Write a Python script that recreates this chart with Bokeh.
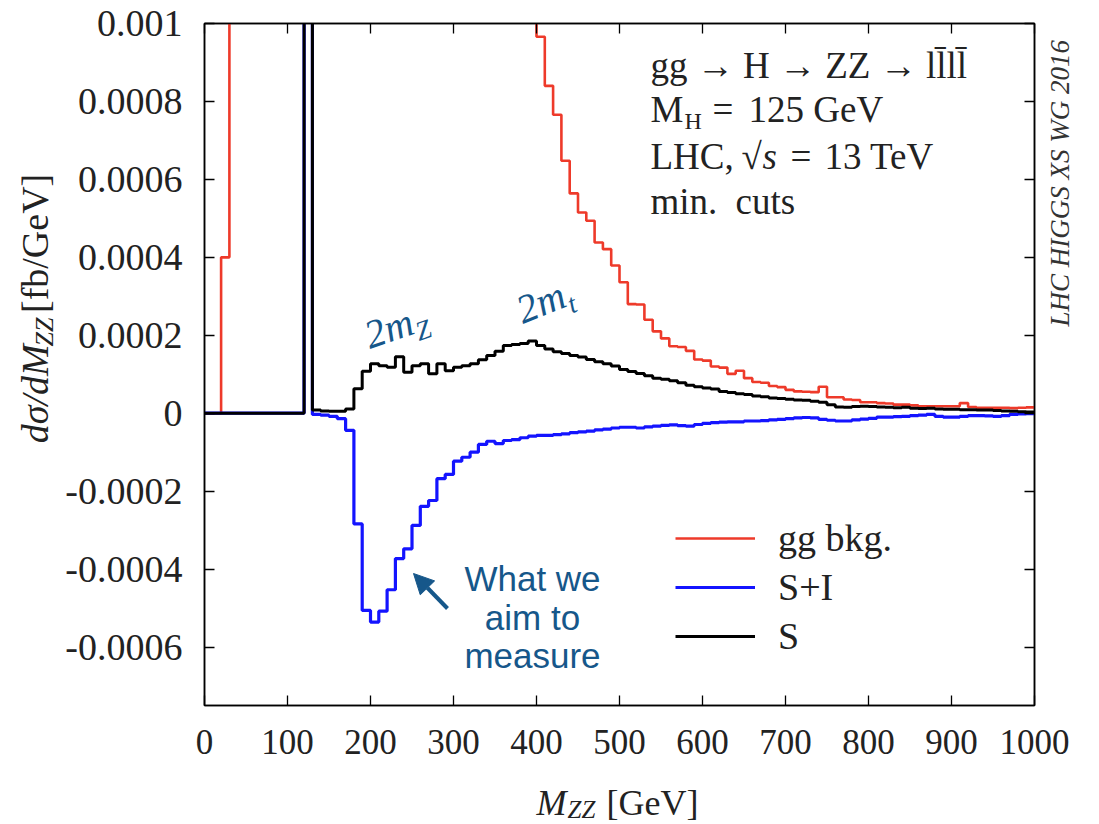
from math import pi, cos, sin
from bokeh.plotting import figure
from bokeh.layouts import row, column
from bokeh.models import (Range1d, LinearAxis, FixedTicker, CustomJSTickFormatter, Label,
                          Arrow, NormalHead, Legend, LegendItem)
from bokeh.embed import file_html
from bokeh.resources import INLINE

# ---------------- data (10 GeV bins, 0..1000 GeV) ----------------
bin_edges = list(range(0, 1010, 10))

gg_bkg = [
    0.0, 0.0, 0.0004,
    0.0042, 0.0061, 0.0079, 0.0093, 0.0101, 0.0104, 0.0102, 0.0097, 0.0090, 0.0082,
    0.0074, 0.0066, 0.0058, 0.0051, 0.0045, 0.0040, 0.0036, 0.0032, 0.0029, 0.0026,
    0.0024, 0.0022, 0.0020, 0.0019, 0.0018, 0.0017, 0.0016, 0.0015, 0.0014, 0.00135,
    0.0013, 0.00125, 0.0012, 0.00115, 0.0011, 0.00105, 0.00101,
    0.000966, 0.000840, 0.000766, 0.000648, 0.000564, 0.000515, 0.000494, 0.000438, 0.000421, 0.000379,
    0.000336, 0.000280, 0.000279, 0.000240, 0.000210, 0.000192, 0.000172, 0.000170, 0.000160, 0.000138,
    0.000135, 0.000120, 0.000117, 0.000101, 0.000109, 0.000090, 0.000080, 0.000078, 0.000070, 0.000067,
    0.000060, 0.000056, 0.000055, 0.000054, 0.000068, 0.000041, 0.000041, 0.000035, 0.000034, 0.000028,
    0.000028, 0.000026, 0.000025, 0.000022, 0.000022, 0.000020, 0.000018, 0.000018, 0.000018, 0.000018,
    0.000018, 0.000026, 0.000016, 0.000014, 0.000014, 0.000014, 0.000014, 0.000013, 0.000014, 0.000015,
]

s_plus_i = [
    0, 0, 0, 0, 0, 0, 0, 0, 0, 0, 0, 0,
    0.02,
    -0.000003, -0.000005, -0.000008, -0.000014, -0.000044, -0.000284, -0.000506, -0.000536, -0.000508, -0.000453,
    -0.000373, -0.000348, -0.000288, -0.000239, -0.000224, -0.000168, -0.000157, -0.000123, -0.000113, -0.000100,
    -0.000080, -0.000072, -0.000078, -0.000070, -0.000068, -0.000063, -0.000059, -0.000057, -0.000057, -0.000055,
    -0.000053, -0.000050, -0.000048, -0.000046, -0.000043, -0.000041, -0.000038, -0.000036, -0.000036, -0.000038,
    -0.000035, -0.000033, -0.000031, -0.000030, -0.000032, -0.000033, -0.000029, -0.000026, -0.000024, -0.000023,
    -0.000022, -0.000022, -0.000020, -0.000020, -0.000019, -0.000017, -0.000016, -0.000014, -0.000012, -0.000011,
    -0.000012, -0.000016, -0.000018, -0.000020, -0.000020, -0.000017, -0.000015, -0.000013, -0.000010, -0.000010,
    -0.000009, -0.000008, -0.000006, -0.000005, -0.000003, -0.000008, -0.000010, -0.000010, -0.000008, -0.000006,
    -0.000006, -0.000007, -0.000008, -0.000006, -0.000003, -0.000002, -0.000001,
]

s_only = [
    0, 0, 0, 0, 0, 0, 0, 0, 0, 0, 0, 0,
    0.02,
    0.000008, 0.000006, 0.000005, 0.000005, 0.000011, 0.000063, 0.000108, 0.000127, 0.000122, 0.000118,
    0.000145, 0.000105, 0.000122, 0.000127, 0.000101, 0.000127, 0.000109, 0.000118, 0.000122, 0.000127,
    0.000137, 0.000148, 0.000159, 0.000174, 0.000176, 0.000179, 0.000185, 0.000174, 0.000165, 0.000158,
    0.000153, 0.000148, 0.000144, 0.000138, 0.000132, 0.000127, 0.000121, 0.000112, 0.000107, 0.000102,
    0.000096, 0.000090, 0.000087, 0.000083, 0.000078, 0.000072, 0.000068, 0.000065, 0.000062, 0.000056,
    0.000053, 0.000050, 0.000048, 0.000044, 0.000042, 0.000039, 0.000038, 0.000036, 0.000034, 0.000033,
    0.000031, 0.000028, 0.000022, 0.000016, 0.000015, 0.000017, 0.000018, 0.000017, 0.000016, 0.000015,
    0.000014, 0.000015, 0.000013, 0.000012, 0.000013, 0.000011, 0.000010, 0.000010, 0.000009, 0.000009,
    0.000008, 0.000008, 0.000007, 0.000006, 0.000005, 0.000004, 0.000003,
]

x_ticks = [0, 100, 200, 300, 400, 500, 600, 700, 800, 900, 1000]
y_ticks = [-0.0006, -0.0004, -0.0002, 0.0, 0.0002, 0.0004, 0.0006, 0.0008, 0.001]

series_names = ["gg bkg.", "S+I", "S"]

# ---------------- layout (global pixel frame of the main plot) ----------------
W, H = 1099, 824
FL, FR, FT, FB = 204, 1034, 23, 705
X0, X1 = 0, 1000
Y0, Y1 = -0.00075, 0.001

LEFT_W = 62          # pad holding the y title
TOP_H = 775          # height of plot row
MAIN_W = W - LEFT_W
BASE_K = 0.3         # shift of Bokeh's alphabetic anchor, in font sizes

RED = "#ee3a2a"
BLUE = "#1414ff"
BLACK = "#000000"
TEAL = "#16578a"
TXT = "#222222"
SERIF = "Liberation Serif"


def dx(px):
    return X0 + (px - FL) / (FR - FL) * (X1 - X0)


def dy(py):
    return Y0 + (FB - py) / (FB - FT) * (Y1 - Y0)


def anchor(px, py, size, angle):
    # move the anchor so the drawn baseline lands on (px, py)
    return px - BASE_K * size * sin(angle), py - BASE_K * size * cos(angle)


p = figure(width=MAIN_W, height=TOP_H, x_range=Range1d(X0, X1), y_range=Range1d(Y0, Y1),
           output_backend="svg", toolbar_location=None,
           min_border_left=FL - LEFT_W, min_border_right=W - FR,
           min_border_top=FT, min_border_bottom=TOP_H - FB)
p.background_fill_color = "white"
p.border_fill_color = "white"
p.outline_line_color = "black"
p.outline_line_width = 1.5
p.xgrid.visible = False
p.ygrid.visible = False

xa = p.xaxis[0]
ya = p.yaxis[0]
xa.ticker = FixedTicker(ticks=x_ticks)
ya.ticker = FixedTicker(ticks=y_ticks)
ya.formatter = CustomJSTickFormatter(code="""
if (Math.abs(tick) < 1e-12) { return "0"; }
let s = tick.toFixed(4);
s = s.replace(/0+$/, "");
return s;
""")
for ax in (xa, ya):
    ax.major_tick_in = 10
    ax.major_tick_out = 0
    ax.minor_tick_line_color = None
    ax.axis_line_width = 1.5
    ax.major_tick_line_width = 1.3
    ax.major_label_text_font = SERIF
    ax.major_label_text_color = TXT
xa.major_label_text_font_size = "35px"
ya.major_label_text_font_size = "38px"
xa.major_label_standoff = 24
ya.major_label_standoff = 22

blank = CustomJSTickFormatter(code="return '';")
top = LinearAxis(ticker=FixedTicker(ticks=x_ticks), formatter=blank, major_label_text_color=None,
                 major_tick_in=10, major_tick_out=0, minor_tick_line_color=None,
                 axis_line_width=1.5, major_tick_line_width=1.3, major_label_standoff=0)
right = LinearAxis(ticker=FixedTicker(ticks=y_ticks), formatter=blank, major_label_text_color=None,
                   major_tick_in=10, major_tick_out=0, minor_tick_line_color=None,
                   axis_line_width=1.5, major_tick_line_width=1.3, major_label_standoff=0)
p.add_layout(top, "above")
p.add_layout(right, "right")

# ---------------- step histograms ----------------
r_red = p.step(x=bin_edges, y=gg_bkg + [gg_bkg[-1]], mode="after", line_color=RED, line_width=2.6)
r_blue = p.step(x=bin_edges, y=s_plus_i + [s_plus_i[-1]], mode="after", line_color=BLUE, line_width=3.2)
r_black = p.step(x=bin_edges, y=s_only + [s_only[-1]], mode="after", line_color=BLACK, line_width=3.0)

legend = Legend(items=[LegendItem(label=series_names[0], renderers=[r_red]),
                       LegendItem(label=series_names[1], renderers=[r_blue]),
                       LegendItem(label=series_names[2], renderers=[r_black])],
                location=(471, 47), glyph_width=80, glyph_height=20, label_standoff=23,
                label_text_font=SERIF, label_text_font_size="38px", label_text_color=TXT,
                spacing=5, padding=0, margin=0, border_line_color=None, background_fill_alpha=0)
p.add_layout(legend)


def make_label(text, px, py, size, font=SERIF, style="normal", color=TXT, angle=0.0, align="left"):
    ax_, ay_ = anchor(px, py, size, angle)
    return Label(x=dx(ax_), y=dy(ay_), text=text, text_font=font, text_font_style=style,
                 text_font_size=f"{size}px", text_color=color, angle=angle,
                 text_align=align, text_baseline="alphabetic")


def lab(*args, **kw):
    p.add_layout(make_label(*args, **kw))


# ---------------- info box ----------------
lab("gg → H → ZZ → ll\u0304ll\u0304", 650, 76, 37)
lab("M", 650, 120, 37)
lab("H", 684, 128, 24)
lab("=", 712, 120, 37)
lab("125 GeV", 748, 120, 37)
lab("LHC,", 650, 167, 37)
lab("√", 741, 167, 37)
lab("s", 762, 167, 37, style="italic")
lab("=", 790, 167, 37)
lab("13 TeV", 824, 167, 37)
lab("min.", 650, 212, 37)
lab("cuts", 735, 212, 37)

# rotated note right of the frame (placed in the right side panel)
p.add_layout(make_label("LHC HIGGS XS WG 2016", 1068, 326, 27, style="italic",
                        color="#333333", angle=pi / 2), "right")


# ---------------- annotations ----------------
def slanted(main, sub, px, py, angle, size=40, sub_size=27, main_w=49, drop=9):
    lab(main, px, py, size, style="italic", color=TEAL, angle=angle)
    ux, uy = cos(angle), -sin(angle)
    nx, ny = sin(angle), cos(angle)
    sx = px + main_w * ux + drop * nx
    sy = py + main_w * uy + drop * ny
    lab(sub, sx, sy, sub_size, style="italic", color=TEAL, angle=angle)


slanted("2m", "Z", 369, 347, 0.33)
slanted("2m", "t", 522, 322, 0.38)

lab("What we", 532, 588, 35, font="Liberation Sans", color=TEAL, align="center")
lab("aim to", 532, 627, 35, font="Liberation Sans", color=TEAL, align="center")
lab("measure", 532, 665, 35, font="Liberation Sans", color=TEAL, align="center")

p.add_layout(Arrow(end=NormalHead(size=20, fill_color=TEAL, line_color=TEAL),
                   x_start=dx(447), y_start=dy(608), x_end=dx(413), y_end=dy(573),
                   line_color=TEAL, line_width=4))


# ---------------- text pads around the plot (axis titles) ----------------
def pad(w, h):
    f = figure(width=w, height=h, x_range=Range1d(0, w), y_range=Range1d(0, h),
               output_backend="svg", toolbar_location=None,
               x_axis_location=None, y_axis_location=None,
               min_border_left=0, min_border_right=0, min_border_top=0, min_border_bottom=0)
    f.outline_line_color = None
    f.background_fill_color = "white"
    f.border_fill_color = "white"
    f.xgrid.visible = False
    f.ygrid.visible = False
    return f


def pad_lab(f, ox, oy, h, text, gx, gy, size, style="normal", angle=0.0, color=TXT):
    ax_, ay_ = anchor(gx, gy, size, angle)
    f.add_layout(Label(x=ax_ - ox, y=(oy + h) - ay_, text=text, text_font=SERIF,
                       text_font_style=style, text_font_size=f"{size}px", text_color=color,
                       angle=angle, text_align="left", text_baseline="alphabetic"))


left_pad = pad(LEFT_W, TOP_H)
pad_lab(left_pad, 0, 0, TOP_H, "dσ/dM", 46, 477, 38, style="italic", angle=pi / 2)
pad_lab(left_pad, 0, 0, TOP_H, "ZZ", 52, 367, 26, style="italic", angle=pi / 2)
pad_lab(left_pad, 0, 0, TOP_H, "[fb/GeV]", 46, 329, 38, angle=pi / 2)

BOT_H = H - TOP_H
bottom_pad = pad(W, BOT_H)
pad_lab(bottom_pad, 0, TOP_H, BOT_H, "M", 536, 813, 36, style="italic")
pad_lab(bottom_pad, 0, TOP_H, BOT_H, "ZZ", 567, 816, 25, style="italic")
pad_lab(bottom_pad, 0, TOP_H, BOT_H, "[GeV]", 606, 813, 36)

layout = column(row(left_pad, p, spacing=0), bottom_pad, spacing=0)

open("out.html", "w").write(file_html(layout, INLINE))
